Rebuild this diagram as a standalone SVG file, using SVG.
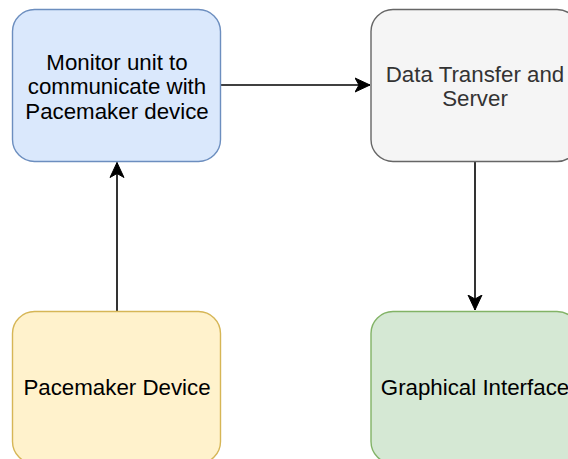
<svg xmlns="http://www.w3.org/2000/svg" width="568" height="459" viewBox="0 0 568 459">
<defs>
<style>
.box{stroke-width:1.4}
.t{font-family:"Liberation Sans",Arial,Helvetica,sans-serif;font-size:22.3px;text-anchor:middle;fill:#000}
.edge{stroke:#000;stroke-width:1.6;fill:none}
</style>
<marker id="arr" markerUnits="userSpaceOnUse" markerWidth="16" markerHeight="16" viewBox="-15 -8 16 16" refX="0" refY="0" orient="auto">
<path d="M0,0 L-15,-7 L-11,0 L-15,7 Z" fill="#000" stroke="#000" stroke-width="1"/>
</marker>
</defs>
<rect width="568" height="459" fill="#fff"/>
<g id="connectors">
<path class="edge" d="M221,85 L370,85" marker-end="url(#arr)"/>
<path class="edge" d="M117,311 L117,162.5" marker-end="url(#arr)"/>
<path class="edge" d="M475,161.5 L475,310" marker-end="url(#arr)"/>
</g>
<g id="monitor">
<rect class="box" x="12.5" y="9.5" width="208" height="152" rx="22" fill="#dae8fc" stroke="#6c8ebf"/>
<text class="t" x="117" y="69.5">Monitor unit to</text>
<text class="t" x="117" y="94">communicate with</text>
<text class="t" x="117" y="118.5">Pacemaker device</text>
</g>
<g id="server">
<rect class="box" x="371" y="9.5" width="208" height="152" rx="22" fill="#f5f5f5" stroke="#666666"/>
<text class="t" x="475" y="81.5" style="fill:#333333">Data Transfer and</text>
<text class="t" x="475" y="106" style="fill:#333333">Server</text>
</g>
<g id="pacemaker">
<rect class="box" x="12.5" y="311.5" width="208" height="152" rx="22" fill="#fff2cc" stroke="#d6b656"/>
<text class="t" x="117" y="395">Pacemaker Device</text>
</g>
<g id="gui">
<rect class="box" x="371" y="311.5" width="208" height="152" rx="22" fill="#d5e8d4" stroke="#82b366"/>
<text class="t" x="475" y="395">Graphical Interface</text>
</g>
</svg>
